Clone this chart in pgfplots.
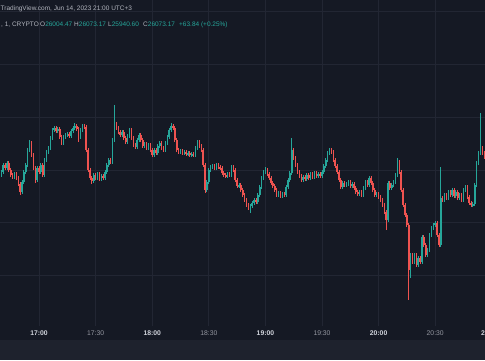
\documentclass[border=0pt]{standalone}
\usepackage{pgfplots}
\pgfplotsset{compat=1.18}
\usepackage{pgfplotstable}
\usepackage{fontspec}
\setmainfont{Liberation Sans}
\definecolor{bgc}{HTML}{151924}
\definecolor{bandc}{HTML}{1E222D}
\definecolor{gridc}{HTML}{222633}
\definecolor{upc}{HTML}{26A69A}
\definecolor{dnc}{HTML}{EF5350}
\definecolor{txtc}{HTML}{D1D4DC}
\definecolor{dimc}{HTML}{9598A1}
\definecolor{hdrc}{HTML}{B2B5BE}

\pgfplotstableread{
t o h l c
1000 26045 26050 26043 26048
1001 26048 26057 26046 26055
1002 26055 26057 26050 26052
1003 26052 26059 26050 26057
1004 26057 26059 26048 26050
1005 26050 26052 26043 26045
1006 26045 26047 26041 26043
1007 26043 26048 26041 26046
1008 26046 26048 26040 26042
1009 26042 26044 26034 26036
1010 26036 26038 26025 26028
1011 26028 26040 26026 26038
1012 26038 26050 26036 26048
1013 26048 26057 26046 26055
1014 26055 26072 26053 26070
1015 26070 26080 26068 26077
1016 26077 26079 26063 26065
1017 26065 26067 26050 26052
1018 26052 26054 26037 26040
1019 26040 26054 26038 26052
1020 26052 26054 26046 26048
1021 26048 26057 26046 26055
1022 26055 26057 26043 26045
1023 26045 26062 26043 26060
1024 26060 26070 26058 26068
1025 26068 26074 26066 26072
1026 26072 26084 26070 26082
1027 26082 26092 26080 26090
1028 26090 26094 26088 26092
1029 26092 26094 26087 26089
1030 26089 26093 26087 26091
1031 26091 26093 26081 26083
1032 26083 26085 26075 26077
1033 26077 26085 26075 26083
1034 26083 26087 26081 26085
1035 26085 26088 26083 26086
1036 26086 26088 26082 26084
1037 26084 26091 26082 26089
1038 26089 26094 26087 26092
1039 26092 26097 26090 26094
1040 26094 26096 26089 26091
1041 26091 26093 26078 26083
1042 26083 26092 26081 26090
1043 26090 26096 26088 26094
1044 26094 26096 26091 26093
1045 26093 26095 26068 26070
1046 26070 26072 26048 26050
1047 26050 26052 26040 26042
1048 26042 26044 26036 26039
1049 26039 26047 26037 26045
1050 26045 26047 26040 26042
1051 26042 26048 26040 26046
1052 26046 26048 26039 26041
1053 26041 26046 26039 26044
1054 26044 26046 26040 26042
1055 26042 26050 26040 26048
1056 26048 26057 26046 26055
1057 26055 26062 26053 26060
1058 26060 26062 26056 26058
1059 26058 26082 26056 26080
1060 26080 26115 26078 26096
1061 26096 26098 26090 26092
1062 26092 26094 26086 26088
1063 26088 26090 26083 26085
1064 26085 26090 26083 26088
1065 26088 26090 26080 26082
1066 26082 26084 26076 26078
1067 26078 26086 26076 26084
1068 26084 26092 26082 26090
1069 26090 26092 26080 26082
1070 26082 26084 26073 26075
1071 26075 26077 26071 26073
1072 26073 26082 26071 26080
1073 26080 26087 26078 26085
1074 26085 26087 26078 26080
1075 26080 26082 26072 26074
1076 26074 26078 26072 26076
1077 26076 26078 26070 26072
1078 26072 26077 26070 26075
1079 26075 26077 26068 26070
1080 26070 26072 26063 26065
1081 26065 26072 26063 26070
1082 26070 26072 26065 26067
1083 26067 26076 26065 26074
1084 26074 26079 26072 26077
1085 26077 26079 26070 26072
1086 26072 26074 26068 26070
1087 26070 26079 26068 26077
1088 26077 26085 26075 26083
1089 26083 26092 26081 26090
1090 26090 26097 26088 26094
1091 26094 26096 26090 26092
1092 26092 26094 26078 26080
1093 26080 26082 26068 26070
1094 26070 26072 26066 26068
1095 26068 26071 26066 26069
1096 26069 26071 26065 26067
1097 26067 26070 26065 26068
1098 26068 26070 26064 26066
1099 26066 26069 26064 26067
1100 26067 26069 26063 26065
1101 26065 26068 26063 26066
1102 26066 26068 26063 26065
1103 26065 26074 26063 26072
1104 26072 26080 26070 26078
1105 26078 26080 26072 26074
1106 26074 26076 26068 26070
1107 26070 26072 26053 26055
1108 26055 26057 26027 26030
1109 26030 26040 26028 26038
1110 26038 26052 26036 26050
1111 26050 26055 26048 26053
1112 26053 26056 26051 26054
1113 26054 26056 26050 26052
1114 26052 26057 26050 26055
1115 26055 26057 26051 26053
1116 26053 26055 26050 26052
1117 26052 26054 26045 26047
1118 26047 26049 26043 26045
1119 26045 26047 26042 26044
1120 26044 26048 26042 26046
1121 26046 26048 26043 26045
1122 26045 26055 26043 26053
1123 26053 26055 26048 26050
1124 26050 26052 26038 26040
1125 26040 26042 26032 26034
1126 26034 26037 26032 26035
1127 26035 26037 26028 26030
1128 26030 26032 26023 26025
1129 26025 26027 26018 26020
1130 26020 26022 26013 26015
1131 26015 26017 26010 26012
1132 26012 26016 26007 26014
1133 26014 26019 26012 26017
1134 26017 26022 26015 26020
1135 26020 26022 26016 26018
1136 26018 26027 26016 26025
1137 26025 26035 26023 26033
1138 26033 26044 26031 26042
1139 26042 26050 26040 26048
1140 26048 26053 26046 26050
1141 26050 26052 26044 26046
1142 26046 26048 26040 26042
1143 26042 26044 26035 26037
1144 26037 26039 26032 26034
1145 26034 26036 26028 26030
1146 26030 26032 26023 26025
1147 26025 26029 26023 26027
1148 26027 26029 26022 26024
1149 26024 26028 26022 26026
1150 26026 26028 26023 26025
1151 26025 26035 26023 26033
1152 26033 26042 26031 26040
1153 26040 26049 26038 26047
1154 26047 26082 26045 26070
1155 26070 26072 26060 26062
1156 26062 26064 26053 26055
1157 26055 26057 26046 26048
1158 26048 26050 26042 26044
1159 26044 26046 26038 26040
1160 26040 26045 26038 26043
1161 26043 26045 26039 26041
1162 26041 26047 26039 26045
1163 26045 26047 26040 26042
1164 26042 26048 26040 26046
1165 26046 26048 26041 26043
1166 26043 26049 26041 26047
1167 26047 26049 26042 26044
1168 26044 26048 26042 26046
1169 26046 26048 26042 26044
1170 26044 26050 26042 26048
1171 26048 26056 26046 26054
1172 26054 26062 26052 26060
1173 26060 26069 26058 26067
1174 26067 26072 26065 26070
1175 26070 26072 26066 26068
1176 26068 26070 26058 26060
1177 26060 26062 26052 26054
1178 26054 26056 26046 26048
1179 26048 26050 26038 26040
1180 26040 26042 26031 26033
1181 26033 26039 26031 26037
1182 26037 26039 26033 26035
1183 26035 26038 26033 26036
1184 26036 26040 26034 26038
1185 26038 26040 26032 26034
1186 26034 26038 26032 26036
1187 26036 26038 26030 26032
1188 26032 26034 26026 26028
1189 26028 26030 26024 26026
1190 26026 26030 26024 26028
1191 26028 26030 26023 26025
1192 26025 26034 26023 26032
1193 26032 26040 26030 26038
1194 26038 26040 26033 26035
1195 26035 26044 26033 26042
1196 26042 26044 26035 26037
1197 26037 26039 26028 26030
1198 26030 26032 26023 26025
1199 26025 26028 26023 26026
1200 26026 26028 26021 26023
1201 26023 26025 26018 26020
1202 26020 26022 26013 26015
1203 26015 26017 26006 26008
1204 26008 26010 25990 26000
1205 26000 26039 25998 26037
1206 26037 26039 26030 26032
1207 26032 26037 26030 26035
1208 26035 26040 26033 26038
1209 26038 26047 26036 26045
1210 26045 26062 26043 26058
1211 26058 26060 26046 26048
1212 26048 26050 26028 26030
1213 26030 26032 26013 26015
1214 26015 26017 26003 26005
1215 26005 26007 25993 25995
1216 25995 25997 25920 25950
1217 25950 25967 25942 25965
1218 25965 25967 25956 25958
1219 25958 25967 25956 25965
1220 25965 25967 25953 25955
1221 25955 25964 25953 25962
1222 25962 25964 25956 25958
1223 25958 25985 25956 25983
1224 25983 25985 25973 25975
1225 25975 25977 25963 25965
1226 25965 25972 25963 25970
1227 25970 25987 25968 25985
1228 25985 25994 25983 25992
1229 25992 25997 25990 25995
1230 25995 25999 25993 25997
1231 25997 25999 25983 25985
1232 25985 25987 25973 25975
1233 25975 26053 25973 26022
1234 26022 26024 26018 26020
1235 26020 26027 26018 26025
1236 26025 26027 26020 26022
1237 26022 26030 26020 26028
1238 26028 26030 26023 26025
1239 26025 26032 26023 26030
1240 26030 26032 26022 26024
1241 26024 26030 26022 26028
1242 26028 26030 26020 26022
1243 26022 26027 26020 26025
1244 26025 26027 26018 26020
1245 26020 26032 26018 26030
1246 26030 26035 26028 26033
1247 26033 26035 26021 26023
1248 26023 26025 26015 26017
1249 26017 26019 26013 26015
1250 26015 26018 26013 26016
1251 26016 26037 26014 26035
1252 26035 26059 26033 26057
1253 26057 26069 26055 26067
1254 26067 26107 26065 26072
1255 26072 26074 26065 26067
1256 26067 26069 26061 26063
}\candles

\pgfplotsset{
  candle/.style={draw=none, mark=none, forget plot,
    error bars/y dir=both, error bars/y explicit, error bars/error mark=none},
}

\begin{document}
\begin{tikzpicture}
\useasboundingbox (0,0) rectangle (485pt,360pt);
\clip (0,0) rectangle (485pt,360pt);
\fill[bgc] (0,0) rectangle (485pt,360pt);
\fill[bandc] (0,0) rectangle (485pt,20pt);
\begin{axis}[
  at={(0pt,34pt)}, anchor=south west,
  scale only axis, width=485pt, height=326pt,
  xmin=999.3, xmax=1256.4, ymin=25894, ymax=26220,
  axis line style={draw=none},
  tick style={draw=none}, major tick length=0pt,
  xtick={1020,1050,1080,1110,1140,1170,1200,1230},
  xticklabels={\textbf{17:00},\textcolor{dimc}{17:30},\textbf{18:00},\textcolor{dimc}{18:30},\textbf{19:00},\textcolor{dimc}{19:30},\textbf{20:00},\textcolor{dimc}{20:30}},
  xticklabel style={font=\fontsize{6.8}{8}\selectfont, text=txtc, anchor=center, yshift=-7pt},
  ytick=\empty,
  xmajorgrids,
  grid style={draw=gridc, line width=0.7pt},
]
\pgfplotsinvokeforeach{25945,25998,26050,26103,26156,26209}{
  \draw[gridc, line width=0.7pt] (axis cs:999.3,#1) -- (axis cs:1256.4,#1);
}
% wicks
\addplot[candle, error bars/error bar style={draw=upc, line width=0.95pt}]
  table[x=t, y expr={\thisrow{c}>=\thisrow{o} ? (\thisrow{h}+\thisrow{l})/2 : nan},
        y error expr={(\thisrow{h}-\thisrow{l})/2}] {\candles};
\addplot[candle, error bars/error bar style={draw=dnc, line width=0.95pt}]
  table[x=t, y expr={\thisrow{c}<\thisrow{o} ? (\thisrow{h}+\thisrow{l})/2 : nan},
        y error expr={(\thisrow{h}-\thisrow{l})/2}] {\candles};
% bodies
\addplot[candle, error bars/error bar style={draw=upc, line width=1.5pt}]
  table[x=t, y expr={\thisrow{c}>=\thisrow{o} ? (\thisrow{o}+\thisrow{c})/2 : nan},
        y error expr={max(abs(\thisrow{o}-\thisrow{c})/2,0.5)}] {\candles};
\addplot[candle, error bars/error bar style={draw=dnc, line width=1.5pt}]
  table[x=t, y expr={\thisrow{c}<\thisrow{o} ? (\thisrow{o}+\thisrow{c})/2 : nan},
        y error expr={max(abs(\thisrow{o}-\thisrow{c})/2,0.5)}] {\candles};
\end{axis}
\node[font=\fontsize{6.8}{8}\selectfont\bfseries, text=txtc, anchor=west, inner sep=0pt] at (480.8pt,27pt) {2};
% header
\node[font=\fontsize{6.5}{8}\selectfont, text=hdrc, anchor=base west, inner sep=0pt] at (0.5pt,349.5pt) {TradingView.com, Jun 14, 2023 21:00 UTC+3};
\begin{scope}[every node/.style={font=\fontsize{6.5}{8}\selectfont, anchor=base west, inner sep=0pt}]
\node[text=hdrc] at (1pt,333.5pt) {, 1, CRYPTO};
\node at (40pt,333.5pt) {\textcolor{hdrc}{O}\textcolor{upc}{26004.47}};
\node at (74pt,333.5pt) {\textcolor{hdrc}{H}\textcolor{upc}{26073.17}};
\node at (108pt,333.5pt) {\textcolor{hdrc}{L}\textcolor{upc}{25940.60}};
\node at (143pt,333.5pt) {\textcolor{hdrc}{C}\textcolor{upc}{26073.17}};
\node at (179pt,333.5pt) {\textcolor{upc}{+63.84 (+0.25\%)}};
\end{scope}
\end{tikzpicture}
\end{document}
